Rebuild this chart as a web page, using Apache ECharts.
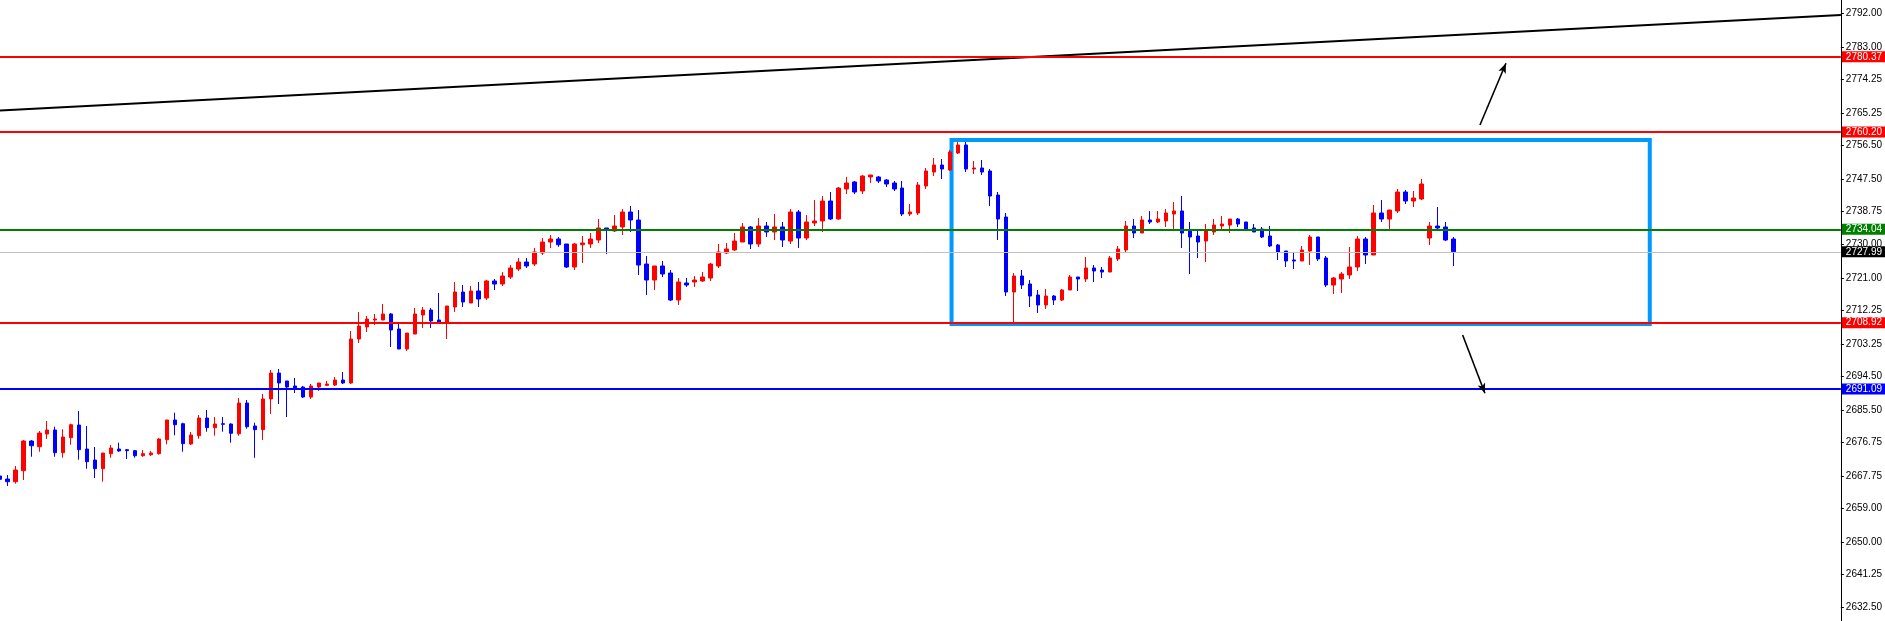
<!DOCTYPE html>
<html>
<head>
<meta charset="utf-8">
<script src="https://cdn.jsdelivr.net/npm/echarts/dist/echarts.min.js"></script>
<style>
html,body{margin:0;padding:0;background:#fff;}
#chart{width:1885px;height:621px;}
</style>
</head>
<body>
<div id="chart"></div>
<script>
// Candles: [open, close, low, high], first entry is the partly visible bar at index -1
const candles = [
[2667.74,2666.85,2666.13,2668.28],
[2666.93,2666.21,2665.05,2668.01],
[2666.21,2669.35,2665.67,2670.43],
[2669.16,2677.14,2666.66,2677.41],
[2677.14,2675.88,2672.92,2677.41],
[2675.61,2679.29,2674.27,2679.83],
[2679.02,2680.10,2677.68,2682.52],
[2680.10,2674.00,2672.92,2680.99],
[2674.00,2678.22,2672.65,2680.29],
[2678.03,2681.52,2676.15,2681.79],
[2681.44,2674.81,2672.12,2685.20],
[2674.99,2671.58,2669.70,2681.17],
[2672.04,2669.70,2667.20,2675.53],
[2669.70,2673.92,2666.21,2673.92],
[2673.73,2675.26,2672.65,2676.07],
[2674.99,2674.46,2674.27,2676.69],
[2674.81,2674.54,2672.31,2674.99],
[2674.54,2673.19,2672.65,2674.73],
[2673.19,2673.73,2672.92,2674.73],
[2673.46,2673.92,2673.11,2674.46],
[2673.73,2677.68,2673.50,2677.90],
[2677.49,2682.79,2676.26,2682.79],
[2682.79,2681.52,2678.67,2684.75],
[2681.79,2676.42,2674.27,2682.06],
[2676.34,2678.76,2676.07,2679.56],
[2678.57,2683.32,2677.76,2684.13],
[2683.32,2680.72,2679.64,2685.47],
[2680.72,2681.71,2678.57,2683.59],
[2681.79,2681.63,2679.64,2683.59],
[2681.71,2679.21,2676.69,2681.90],
[2679.10,2687.35,2678.57,2688.70],
[2687.35,2680.99,2680.45,2688.16],
[2681.17,2680.18,2672.65,2682.06],
[2680.18,2688.43,2677.41,2689.77],
[2688.43,2695.41,2684.40,2696.22],
[2695.41,2692.73,2687.09,2696.49],
[2693.27,2691.65,2683.59,2693.27],
[2691.92,2691.12,2690.04,2694.07],
[2691.65,2688.97,2688.70,2691.92],
[2688.97,2691.92,2688.43,2692.46],
[2691.65,2692.73,2690.58,2692.73],
[2692.11,2692.46,2691.92,2693.27],
[2692.19,2693.53,2691.92,2694.34],
[2693.53,2692.73,2692.46,2695.68],
[2692.73,2704.55,2692.46,2706.70],
[2704.55,2708.04,2703.48,2711.81],
[2707.78,2709.92,2706.43,2710.73],
[2709.66,2709.92,2708.31,2711.27],
[2709.66,2711.27,2709.66,2713.96],
[2711.27,2706.97,2702.40,2711.54],
[2707.24,2701.86,2701.86,2708.58],
[2701.86,2706.16,2701.33,2706.16],
[2705.89,2711.27,2705.89,2712.88],
[2711.00,2712.34,2707.51,2713.15],
[2712.34,2709.39,2707.51,2712.88],
[2709.66,2709.12,2709.12,2716.91],
[2709.12,2713.42,2704.55,2713.42],
[2713.15,2717.18,2711.81,2719.87],
[2717.18,2714.49,2713.15,2719.06],
[2714.22,2717.45,2714.22,2718.79],
[2717.45,2715.30,2713.15,2719.87],
[2715.57,2720.14,2715.03,2720.40],
[2720.14,2719.33,2717.72,2720.67],
[2719.33,2721.48,2718.79,2722.55],
[2721.21,2723.63,2720.67,2724.43],
[2723.36,2725.24,2722.82,2726.32],
[2725.24,2724.17,2723.63,2726.32],
[2724.70,2727.93,2724.17,2729.00],
[2727.66,2730.61,2727.12,2731.69],
[2730.61,2731.42,2729.00,2732.50],
[2731.42,2729.89,2729.35,2731.96],
[2730.08,2723.90,2723.63,2730.08],
[2723.90,2730.08,2723.09,2730.35],
[2729.89,2730.35,2724.97,2732.23],
[2730.08,2731.42,2729.00,2733.03],
[2731.15,2734.38,2730.35,2736.79],
[2734.38,2734.11,2727.39,2734.38],
[2733.57,2734.91,2733.30,2737.87],
[2734.65,2738.68,2732.50,2739.48],
[2738.68,2736.53,2733.30,2740.29],
[2736.53,2724.43,2721.75,2739.21],
[2724.70,2720.40,2716.37,2726.85],
[2720.40,2724.17,2717.72,2724.17],
[2724.17,2722.02,2721.21,2725.51],
[2722.28,2715.03,2714.76,2723.09],
[2715.03,2719.87,2713.69,2720.94],
[2719.60,2719.06,2718.52,2720.94],
[2719.87,2720.40,2718.52,2721.48],
[2720.14,2721.21,2719.87,2722.55],
[2720.94,2724.70,2720.14,2724.97],
[2724.17,2727.93,2723.63,2730.08],
[2727.66,2728.73,2727.39,2730.35],
[2728.47,2730.88,2728.20,2733.03],
[2730.61,2734.65,2730.61,2735.72],
[2734.65,2730.08,2728.73,2734.91],
[2730.08,2734.91,2729.27,2737.06],
[2734.91,2733.30,2731.96,2735.99],
[2733.30,2734.65,2731.15,2738.14],
[2734.65,2731.15,2729.27,2735.99],
[2730.88,2738.68,2730.08,2739.48],
[2738.68,2731.69,2729.00,2739.21],
[2731.69,2735.99,2731.15,2737.87],
[2735.72,2736.26,2734.91,2741.90],
[2736.26,2741.63,2733.30,2742.97],
[2741.63,2736.80,2736.53,2744.05],
[2736.80,2745.12,2736.61,2745.39],
[2744.86,2746.47,2743.51,2748.08],
[2746.74,2744.05,2743.51,2747.01],
[2744.32,2748.35,2743.51,2748.62],
[2748.08,2748.62,2746.47,2748.62],
[2748.08,2747.01,2746.47,2748.35],
[2747.27,2746.20,2745.39,2747.54],
[2746.47,2744.86,2744.32,2747.01],
[2745.12,2738.14,2737.60,2747.01],
[2738.14,2738.68,2737.60,2740.83],
[2738.41,2745.93,2737.87,2746.74],
[2745.66,2749.69,2744.86,2750.50],
[2749.42,2751.30,2748.35,2753.19],
[2751.30,2750.23,2747.54,2752.92],
[2749.96,2754.80,2749.69,2755.34],
[2754.53,2756.68,2754.26,2757.48],
[2756.68,2750.23,2749.42,2757.48],
[2750.23,2750.50,2748.89,2752.38],
[2750.50,2749.42,2748.62,2752.65],
[2749.69,2742.97,2740.29,2750.23],
[2743.24,2736.79,2731.15,2744.05],
[2737.33,2717.18,2716.10,2738.41],
[2717.18,2721.48,2709.00,2722.28],
[2721.48,2719.06,2717.99,2723.09],
[2719.33,2716.10,2713.15,2720.40],
[2716.37,2713.69,2711.54,2717.72],
[2713.69,2716.10,2712.61,2717.99],
[2716.10,2715.03,2713.69,2716.37],
[2715.03,2717.72,2714.76,2717.99],
[2717.72,2721.21,2717.72,2721.75],
[2721.21,2720.67,2717.45,2721.21],
[2720.67,2723.63,2719.87,2726.58],
[2723.63,2722.82,2719.87,2724.43],
[2723.09,2722.55,2720.94,2723.90],
[2722.55,2726.32,2722.55,2726.85],
[2726.05,2728.73,2725.51,2729.54],
[2728.47,2734.91,2727.93,2736.26],
[2734.91,2733.03,2731.69,2736.79],
[2733.03,2736.53,2733.03,2737.60],
[2736.53,2735.99,2735.45,2738.95],
[2735.99,2736.79,2735.72,2738.95],
[2736.26,2738.41,2734.65,2739.48],
[2738.14,2738.95,2733.84,2741.36],
[2738.95,2733.03,2729.00,2742.97],
[2733.57,2731.96,2722.02,2735.99],
[2732.23,2730.61,2726.32,2733.57],
[2730.88,2733.57,2725.24,2735.45],
[2733.30,2735.18,2732.50,2736.79],
[2734.91,2735.45,2733.57,2737.60],
[2735.18,2736.79,2733.03,2736.79],
[2736.79,2735.45,2734.65,2737.06],
[2735.99,2734.11,2734.11,2735.99],
[2734.38,2733.30,2733.30,2735.45],
[2734.11,2731.96,2731.69,2734.65],
[2732.23,2729.54,2729.27,2734.91],
[2729.81,2727.93,2725.78,2730.08],
[2728.20,2725.51,2723.90,2728.20],
[2725.78,2725.51,2723.36,2727.66],
[2725.51,2728.47,2725.51,2729.54],
[2728.20,2731.96,2724.43,2732.50],
[2731.96,2726.05,2725.51,2731.96],
[2726.32,2719.06,2718.52,2726.85],
[2719.06,2720.94,2716.64,2721.21],
[2720.67,2722.02,2716.91,2722.55],
[2721.75,2723.90,2720.67,2729.27],
[2723.90,2731.42,2722.82,2732.23],
[2731.42,2727.12,2724.70,2731.96],
[2727.12,2738.41,2727.12,2740.56],
[2738.41,2736.79,2735.99,2741.90],
[2736.79,2739.21,2733.84,2739.21],
[2738.95,2744.05,2738.41,2744.86],
[2744.05,2741.63,2740.83,2744.59],
[2741.63,2742.44,2740.02,2744.32],
[2742.17,2746.20,2741.90,2747.54],
[2731.69,2734.91,2729.81,2735.99],
[2734.91,2734.38,2734.11,2740.02],
[2734.65,2731.15,2730.88,2735.99],
[2731.42,2727.99,2724.17,2731.96]
];
const firstIndex = -1;

// price axis tick labels
const tickValues = [2792.00,2783.00,2774.25,2765.25,2756.50,2747.50,2738.75,2730.00,2721.00,2712.25,2703.25,2694.50,2685.50,2676.75,2667.75,2659.00,2650.00,2641.25,2632.50];

// horizontal levels
const resistanceLevels = [2780.37, 2760.20, 2708.92];
const pivotLevel = [2734.04];
const bidLevel = [2727.99];
const supportLevel = [2691.09];

// trend line endpoints [barIndex, price]
const trendLine = [[-0.9125, 2765.95], [229.4625, 2791.61]];
// range box corners [barIndex, price]
const rangeBox = [[118.17, 2758.02], [205.55, 2708.58]];
// arrows [from, to] in [barIndex, price]
const arrowUp = [[184.30, 2762.05], [187.55, 2778.63]];
const arrowDown = [[182.13, 2705.63], [184.92, 2689.96]];

const X_MIN = -0.9125, X_MAX = 229.4625, Y_MIN = 2628.78, Y_MAX = 2795.64;

const seriesData = candles.map((c, i) => [i + firstIndex, c[0], c[1], c[2], c[3]]);

function levelLine(v, lineColor, width, bg, txt) {
  return {
    yAxis: v,
    lineStyle: {color: lineColor, width: width, type: 'solid'},
    label: {
      show: true, position: 'end', distance: 1,
      formatter: v.toFixed(2),
      color: txt, backgroundColor: bg,
      padding: [1, 6, 0, 4],
      fontSize: 10, fontFamily: 'Liberation Sans, Arial, sans-serif',
      lineHeight: 10
    }
  };
}
function arrowLine(a) {
  return [
    {coord: a[0], symbol: 'none'},
    {coord: a[1], symbol: 'arrow', symbolSize: [6, 10],
     lineStyle: {color: '#000', width: 1.6, type: 'solid'}, label: {show: false}}
  ];
}

const markLineData = []
  .concat(resistanceLevels.map(v => levelLine(v, '#ff0000', 2, '#ff0000', '#ffffff')))
  .concat(pivotLevel.map(v => levelLine(v, '#008000', 2, '#008000', '#ffffff')))
  .concat(bidLevel.map(v => levelLine(v, '#c0c0c0', 1, '#000000', '#ffffff')))
  .concat(supportLevel.map(v => levelLine(v, '#0000ff', 2, '#0000ff', '#ffffff')))
  .concat([arrowLine(arrowUp), arrowLine(arrowDown)]);

const chart = echarts.init(document.getElementById('chart'));
chart.setOption({
  animation: false,
  backgroundColor: '#ffffff',
  grid: {left: 0, right: 42, top: 0, bottom: 0, containLabel: false},
  xAxis: {type: 'value', min: X_MIN, max: X_MAX, show: false,
          axisLine: {onZero: false}},
  yAxis: {
    type: 'value', position: 'right', min: Y_MIN, max: Y_MAX,
    splitLine: {show: false},
    axisLine: {show: true, onZero: false, lineStyle: {color: '#000', width: 1}},
    axisTick: {show: true, length: 3, customValues: tickValues, lineStyle: {color: '#000'}},
    axisLabel: {
      customValues: tickValues, formatter: v => Number(v).toFixed(2),
      color: '#000', fontSize: 10, fontFamily: 'Liberation Sans, Arial, sans-serif', margin: 5
    }
  },
  series: [
    {
      type: 'line', data: trendLine, showSymbol: false, silent: true,
      lineStyle: {color: '#000', width: 2}, z: 1
    },
    {
      type: 'candlestick', data: seriesData, barWidth: 4,
      itemStyle: {color: '#ff0000', color0: '#0000ff', borderColor: '#ff0000', borderColor0: '#0000ff', borderWidth: 1},
      z: 3,
      markArea: {
        silent: true,
        itemStyle: {color: 'rgba(0,0,0,0)', borderColor: '#0099ff', borderWidth: 4},
        label: {show: false},
        data: [[{coord: rangeBox[0]}, {coord: rangeBox[1]}]]
      },
      markLine: {
        silent: true, symbol: 'none', animation: false,
        data: markLineData
      }
    }
  ]
});
</script>
</body>
</html>
